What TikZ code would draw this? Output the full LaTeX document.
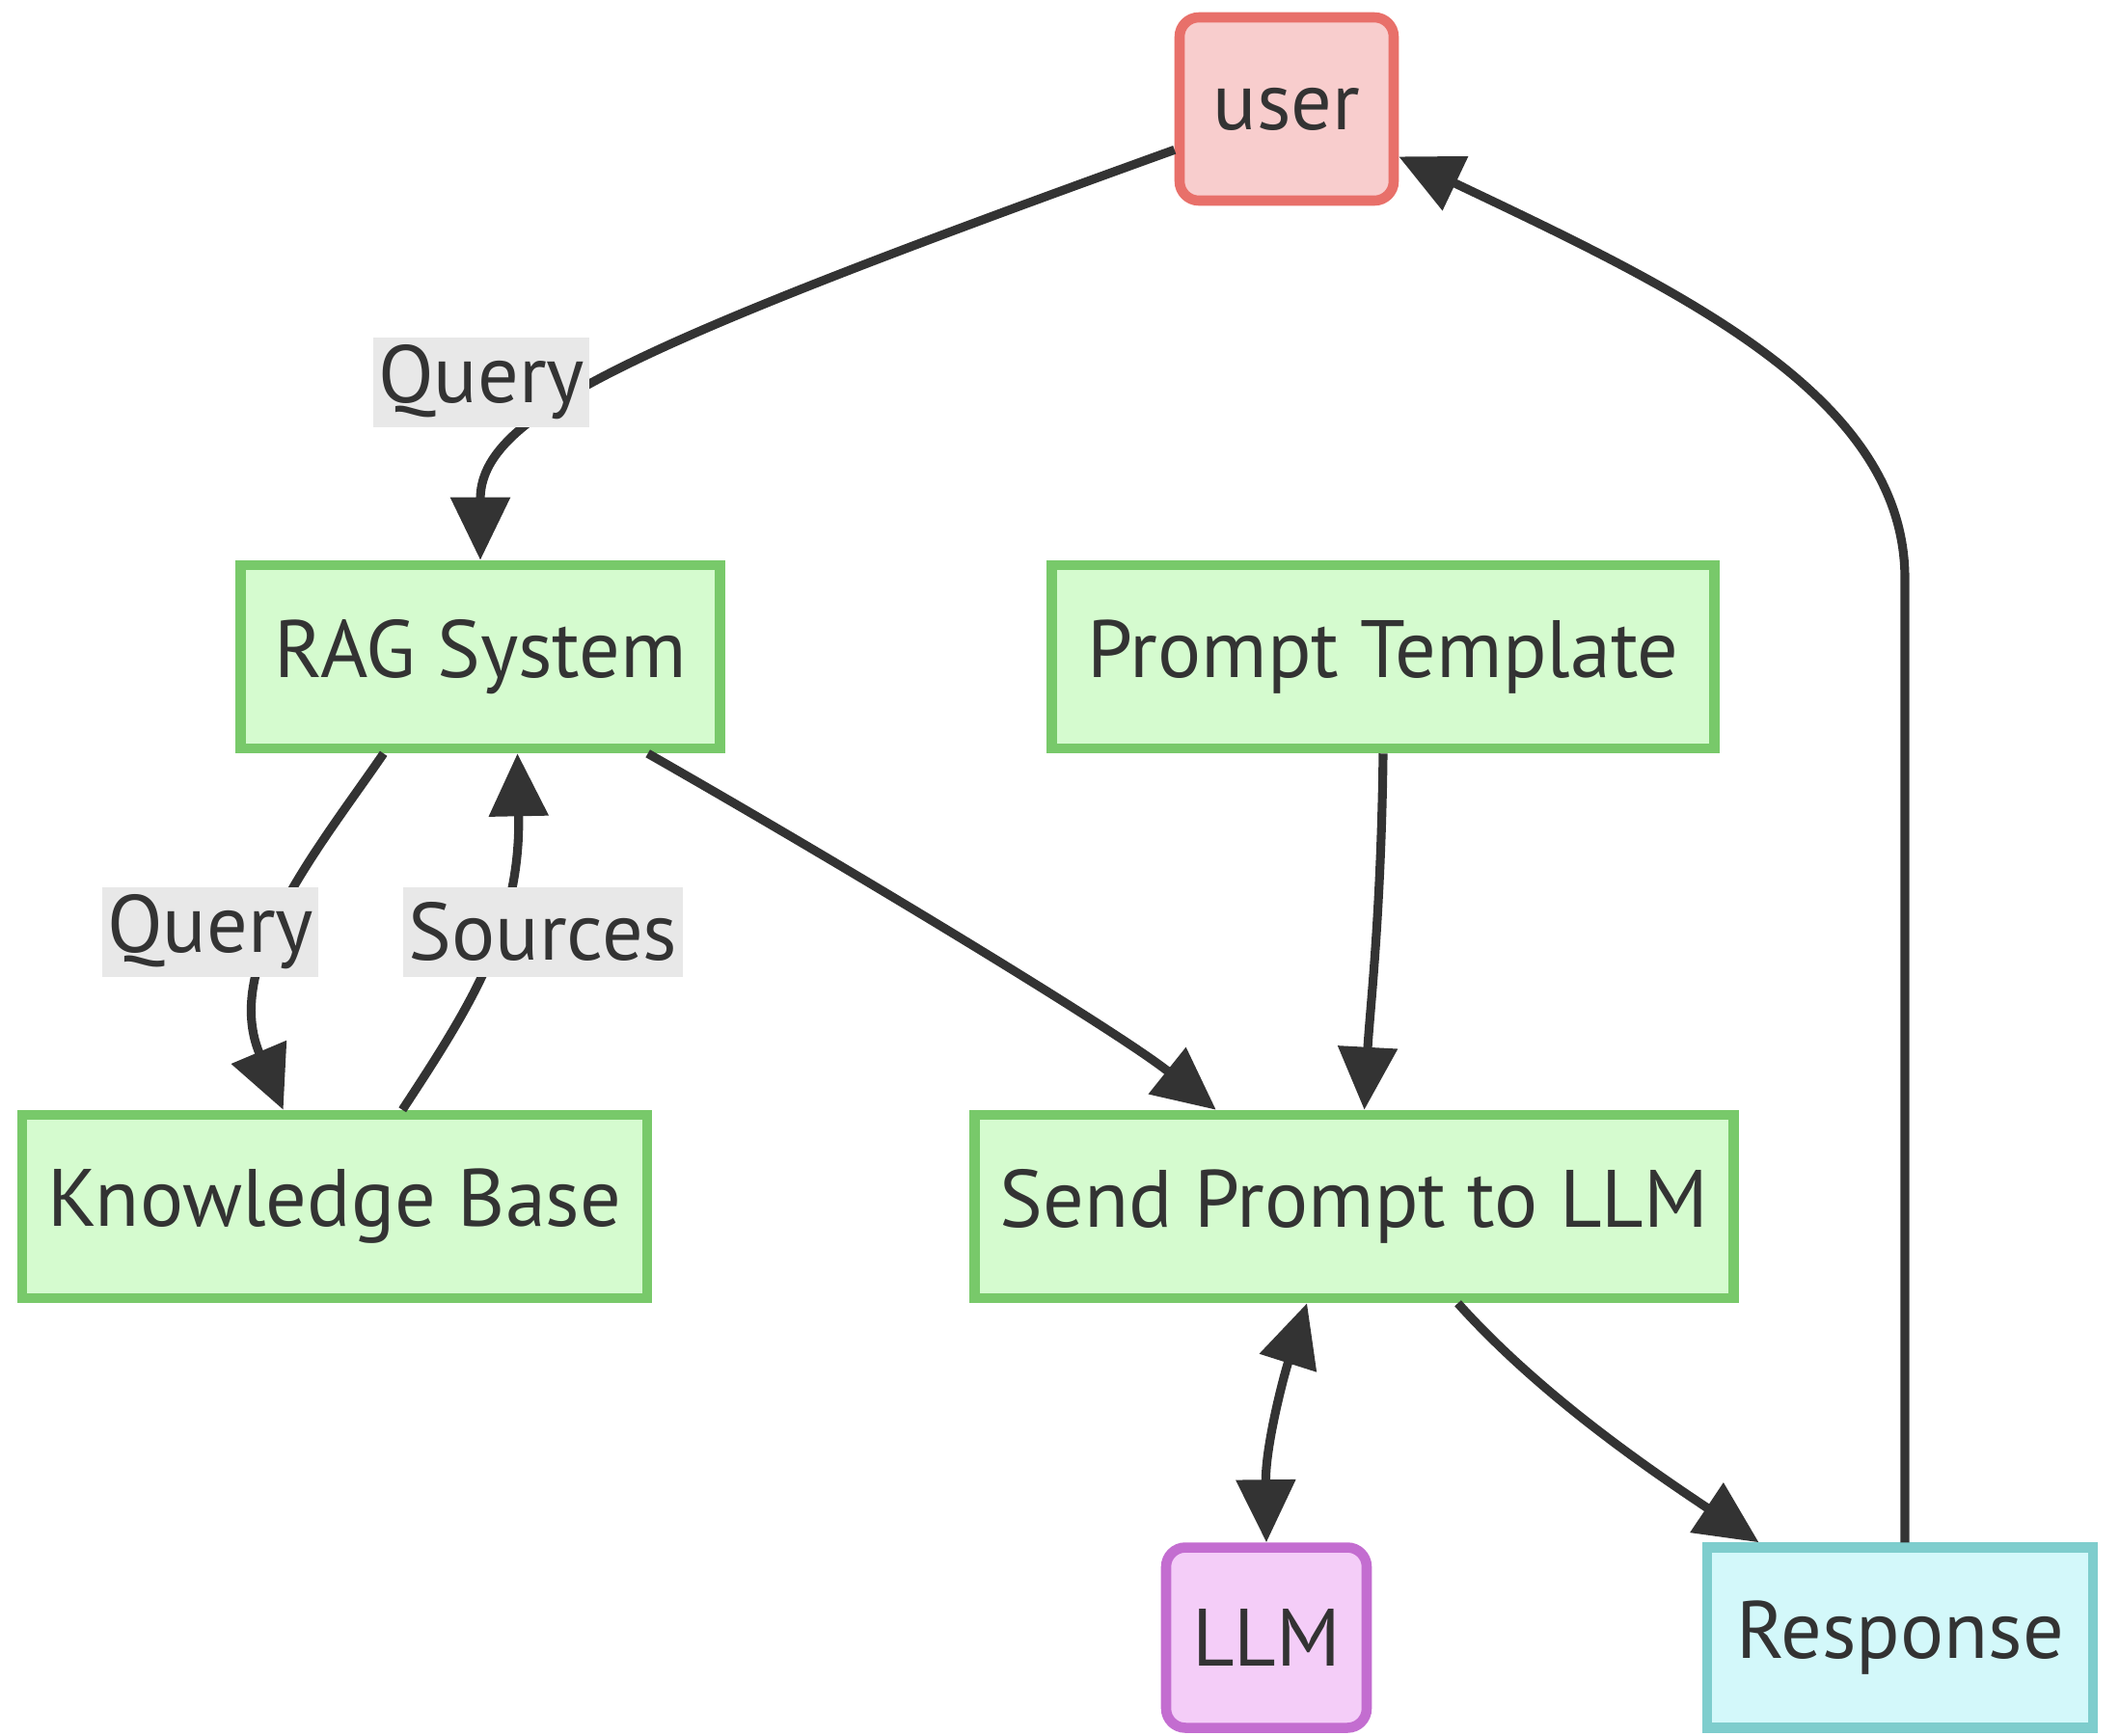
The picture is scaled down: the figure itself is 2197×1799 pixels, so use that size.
\documentclass[tikz,border=0pt]{standalone}
\usepackage{fontspec}
\setmainfont{PT Sans}
\usetikzlibrary{arrows.meta}
\definecolor{ink}{HTML}{333333}
\definecolor{grnfill}{HTML}{D5FBCF}
\definecolor{grnline}{HTML}{78C96A}
\definecolor{usrfill}{HTML}{F8CDCD}
\definecolor{usrline}{HTML}{E8706A}
\definecolor{llmfill}{HTML}{F4CDF8}
\definecolor{llmline}{HTML}{C36DD0}
\definecolor{rspfill}{HTML}{D3F8FA}
\definecolor{rspline}{HTML}{7ECDCD}
\definecolor{lblfill}{HTML}{E8E8E8}

\begin{document}
\begin{tikzpicture}[x=0.1mm, y=-0.1mm, font=\fontsize{24}{28}\selectfont,
  box/.style={draw=grnline, fill=grnfill, line width=3pt, text=ink, minimum height=19mm, inner sep=0pt},
  lbl/.style={fill=lblfill, text=ink, inner xsep=1.5pt, inner ysep=0pt, minimum height=9.3mm},
  arr/.style={draw=ink, line width=2.6pt, -{Triangle[length=6.5mm,width=6mm]}}]
\useasboundingbox (0,0) rectangle (2197,1799);

\node[box, draw=usrline, fill=usrfill, rounded corners=2mm, minimum width=22.2mm] (user) at (1334,113) {user};
\node[box, minimum width=49.7mm] (rag) at (498,681) {RAG System};
\node[box, minimum width=68.7mm] (ptpl) at (1434,681) {Prompt Template};
\node[box, minimum width=64.8mm] (kb) at (347,1251) {Knowledge Base};
\node[box, minimum width=78.7mm] (send) at (1404,1251) {Send Prompt to LLM};
\node[box, draw=llmline, fill=llmfill, rounded corners=2mm, minimum width=20.8mm, minimum height=18.7mm] (llm) at (1313,1698) {LLM};
\node[box, draw=rspline, fill=rspfill, minimum width=40mm, minimum height=18.7mm] (resp) at (1970,1698) {Response};

\draw[arr] (user.200) .. controls (650,360) and (498,430) .. (rag.north);
\draw[arr] (rag.225) .. controls (330,880) and (230,1000) .. (kb.118);
\draw[arr] (kb.55) .. controls (490,1040) and (540,960) .. (rag.291);
\draw[arr] (rag.330) .. controls (880,900) and (1160,1070) .. (send.145);
\draw[arr] (ptpl.south) .. controls (1432,950) and (1420,1050) .. (send.84);
\draw[arr, {Triangle[length=6.5mm,width=6mm]}-{Triangle[length=6.5mm,width=6mm]}] (send.244) .. controls (1330,1430) and (1312,1500) .. (llm.north);
\draw[arr] (send.317) .. controls (1600,1450) and (1720,1530) .. (resp.146);
\coordinate (up) at (1975,600);
\draw[arr] (resp.north -| up) -- (up) .. controls (1975,410) and (1740,300) .. (user.337);

\foreach \nm/\x/\y/\txt in {q1/499/396/Query, q2/218/966/Query, src/563/966/Sources}
  \node[lbl] (\nm) at (\x,\y) {\txt};
\end{tikzpicture}
\end{document}
